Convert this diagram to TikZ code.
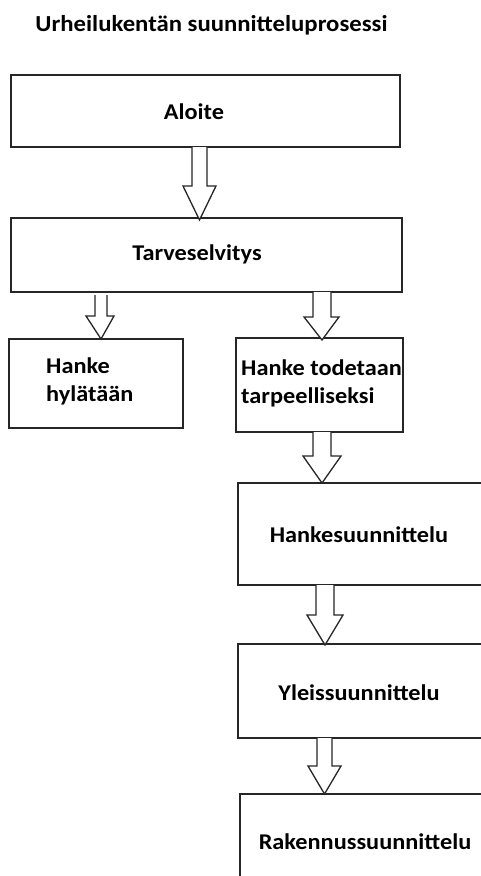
\documentclass[tikz,border=0pt]{standalone}
\usepackage{fontspec}
\setmainfont{Carlito}[FakeStretch=1.08]
\begin{document}
\begin{tikzpicture}[x=1pt,y=-1pt,
  box/.style={draw=black!85, line width=1.6pt, inner sep=0pt},
  lbl/.style={font=\fontsize{22.5}{28}\selectfont\bfseries, inner sep=0pt, text=black},
  barrow/.style={draw=black!85, line width=1.3pt, fill=white, line join=miter}]
\useasboundingbox (0,0) rectangle (481,876);
\clip (0,0) rectangle (481,876);
% title
\node[lbl, font=\fontsize{22.9}{26}\selectfont\bfseries] (title) at (211.5,25) {Urheilukentän suunnitteluprosessi};
% boxes
\node[box, minimum width=389pt, minimum height=72pt] (aloite) at (205.5,111) {};
\node[box, minimum width=391pt, minimum height=74pt] (tarve) at (206.5,255) {};
\node[box, minimum width=174pt, minimum height=89pt] (hylat) at (96,383.5) {};
\node[box, minimum width=167pt, minimum height=94pt] (todet) at (319.5,385) {};
\node[box, minimum width=252pt, minimum height=102pt] (hanke) at (364,534) {};
\node[box, minimum width=252pt, minimum height=94pt] (yleis) at (364,691) {};
\node[box, minimum width=250pt, minimum height=106pt] (raken) at (365,847) {};
% texts
\node[lbl] (t1) at (194,112) {Aloite};
\node[lbl] (t2) at (197,254) {Tarveselvitys};
\node[lbl, anchor=west, align=left] (t3) at (46,381) {Hanke\\hylätään};
\node[lbl, anchor=west, align=left] (t4) at (241,383) {Hanke todetaan\\tarpeelliseksi};
\node[lbl] (t5) at (359,535) {Hankesuunnittelu};
\node[lbl] (t6) at (359,693) {Yleissuunnittelu};
\node[lbl] (t7) at (365,842) {Rakennussuunnittelu};
% block arrows: shaft l, shaft r, top, head base, head l, head r, tip
\newcommand{\barr}[7]{\draw[barrow] (#1,#3) -- (#1,#4) -- (#5,#4) -- ({(#1+#2)/2},#7) -- (#6,#4) -- (#2,#4) -- (#2,#3);}
\barr{192}{207}{147}{186}{183}{216}{220}
\barr{95}{107}{295}{316}{86}{114}{339}
\barr{313}{331}{292}{317}{304}{339}{340}
\barr{313}{331}{432}{456}{303}{341}{483}
\barr{316}{334}{585}{615}{307}{343}{645}
\barr{317}{332}{738}{766}{308}{341}{794}
\end{tikzpicture}
\end{document}
